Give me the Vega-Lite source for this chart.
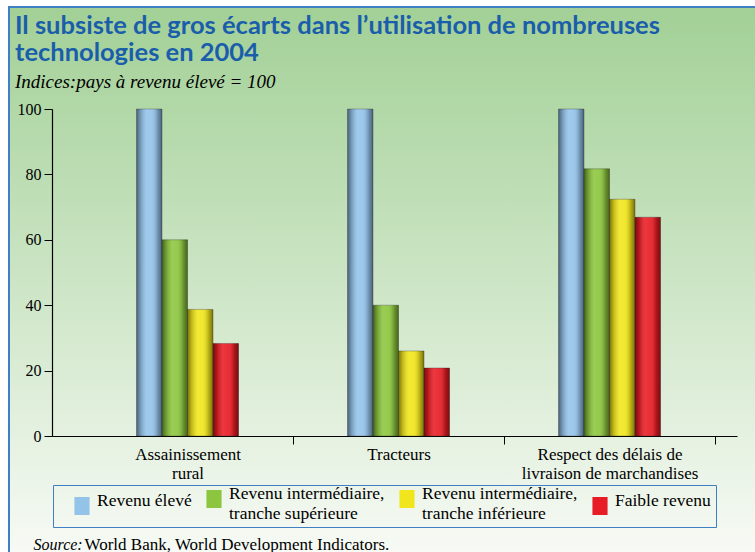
{
  "$schema": "https://vega.github.io/schema/vega-lite/v6.json",
  "width": 747,
  "height": 546,
  "autosize": {"type": "none"},
  "padding": {"left": 9, "top": 7, "right": 0, "bottom": 0},
  "background": "#ffffff",
  "title": {
    "text": ["Il subsiste de gros écarts dans l’utilisation de nombreuses", "technologies en 2004"],
    "subtitle": "Indices:pays à revenu élevé = 100",
    "anchor": "start",
    "frame": "group",
    "orient": "top",
    "offset": -85,
    "dx": 6,
    "font": "Lato",
    "fontSize": 25.5,
    "fontWeight": "bold",
    "color": "#1a5eab",
    "lineHeight": 27,
    "subtitleFont": "Liberation Serif",
    "subtitleFontSize": 19,
    "subtitleFontStyle": "italic",
    "subtitleColor": "#000000",
    "subtitlePadding": 7
  },
  "data": {
    "values": [
      {"technologie": "Assainissement rural", "groupe": "Revenu élevé", "indice": 100},
      {"technologie": "Assainissement rural", "groupe": "Revenu intermédiaire, tranche supérieure", "indice": 60},
      {"technologie": "Assainissement rural", "groupe": "Revenu intermédiaire, tranche inférieure", "indice": 38.7},
      {"technologie": "Assainissement rural", "groupe": "Faible revenu", "indice": 28.3},
      {"technologie": "Tracteurs", "groupe": "Revenu élevé", "indice": 100},
      {"technologie": "Tracteurs", "groupe": "Revenu intermédiaire, tranche supérieure", "indice": 40},
      {"technologie": "Tracteurs", "groupe": "Revenu intermédiaire, tranche inférieure", "indice": 26},
      {"technologie": "Tracteurs", "groupe": "Faible revenu", "indice": 20.8},
      {"technologie": "Respect des délais de livraison de marchandises", "groupe": "Revenu élevé", "indice": 100},
      {"technologie": "Respect des délais de livraison de marchandises", "groupe": "Revenu intermédiaire, tranche supérieure", "indice": 81.7},
      {"technologie": "Respect des délais de livraison de marchandises", "groupe": "Revenu intermédiaire, tranche inférieure", "indice": 72.4},
      {"technologie": "Respect des délais de livraison de marchandises", "groupe": "Faible revenu", "indice": 66.9}
    ]
  },
  "encoding": {
    "x": {
      "field": "technologie",
      "type": "nominal",
      "sort": ["Assainissement rural", "Tracteurs", "Respect des délais de livraison de marchandises"],
      "scale": {"range": [43, 728], "paddingInner": 0.5166, "paddingOuter": 0.3815, "align": 0.525},
      "axis": {
        "orient": "bottom",
        "offset": -117,
        "grid": false,
        "title": "World Bank, World Development Indicators.",
        "titleX": 75,
        "titleY": 113,
        "titleAlign": "left",
        "titleBaseline": "alphabetic",
        "titleFont": "Liberation Serif",
        "titleFontSize": 17,
        "titleFontWeight": "normal",
        "titleColor": "#000000",
        "labelAngle": 0,
        "labelFont": "Liberation Serif",
        "labelFontSize": 17,
        "labelColor": "#000000",
        "labelLineHeight": 19,
        "labelBaseline": "top",
        "labelPadding": 2,
        "labelLimit": 300,
        "labelExpr": "datum.value == 'Assainissement rural' ? ['Assainissement', 'rural'] : datum.value == 'Respect des délais de livraison de marchandises' ? ['Respect des délais de', 'livraison de marchandises'] : datum.value",
        "tickOffset": 105.5,
        "labelOffset": -105.5,
        "tickSize": 8,
        "tickColor": "#000000",
        "domainColor": "#000000",
        "domainWidth": 1.2
      }
    },
    "xOffset": {
      "field": "groupe",
      "type": "nominal",
      "sort": ["Revenu élevé", "Revenu intermédiaire, tranche supérieure", "Revenu intermédiaire, tranche inférieure", "Faible revenu"],
      "scale": {"paddingInner": 0, "paddingOuter": 0}
    },
    "y": {
      "field": "indice",
      "type": "quantitative",
      "stack": null,
      "scale": {"domain": [0, 100], "range": [429, 102], "nice": false},
      "axis": {
        "orient": "left",
        "offset": -43,
        "grid": false,
        "values": [0, 20, 40, 60, 80, 100],
        "tickSize": 8,
        "tickColor": "#000000",
        "domainColor": "#000000",
        "domainWidth": 1.2,
        "labelPadding": 3,
        "labelFont": "Liberation Serif",
        "labelFontSize": 16,
        "labelColor": "#000000",
        "title": "Source:",
        "titleAngle": 0,
        "titleX": -19,
        "titleY": 542,
        "titleAlign": "left",
        "titleBaseline": "alphabetic",
        "titleFont": "Liberation Serif",
        "titleFontSize": 16,
        "titleFontStyle": "italic",
        "titleFontWeight": "normal",
        "titleColor": "#000000"
      }
    }
  },
  "layer": [
    {
      "mark": {"type": "bar", "stroke": "#2b2b2b", "strokeWidth": 0.6, "strokeOpacity": 0.55},
      "encoding": {
        "color": {
          "field": "groupe",
          "type": "nominal",
          "scale": {
            "domain": ["Revenu élevé", "Revenu intermédiaire, tranche supérieure", "Revenu intermédiaire, tranche inférieure", "Faible revenu"],
            "range": ["#94c3ea", "#8cc63e", "#f1e61b", "#e81c24"]
          },
          "legend": {
            "orient": "none",
            "legendX": 44,
            "legendY": 478,
            "direction": "horizontal",
            "columns": 4,
            "title": "\u00a0",
            "titleOrient": "left",
            "titlePadding": 15,
            "padding": 5,
            "strokeColor": "#3f7fc4",
            "symbolType": "M-0.84,-1H0.84V1H-0.84Z",
            "symbolSize": 324,
            "symbolStrokeWidth": 0,
            "symbolOpacity": 1,
            "labelFont": "Liberation Serif",
            "labelFontSize": 17.5,
            "labelColor": "#000000",
            "labelLimit": 300,
            "labelBaseline": "alphabetic",
            "labelOffset": 6,
            "columnPadding": 13,
            "labelExpr": "datum.label == 'Revenu intermédiaire, tranche supérieure' ? ['Revenu intermédiaire,', 'tranche supérieure'] : datum.label == 'Revenu intermédiaire, tranche inférieure' ? ['Revenu intermédiaire,', 'tranche inférieure'] : datum.label == 'Faible revenu' ? 'Faible revenu\u00a0\u00a0\u00a0\u00a0\u00a0' : datum.label",
            "encode": {"legend": {"update": {"strokeWidth": {"value": 1.5}}}}
          }
        }
      }
    },
    {
      "mark": {
        "type": "bar",
        "fill": {
          "gradient": "linear",
          "x1": 0, "y1": 0, "x2": 1, "y2": 0,
          "stops": [
            {"offset": 0, "color": "rgba(0,0,0,0.5)"},
            {"offset": 0.15, "color": "rgba(0,0,0,0.22)"},
            {"offset": 0.4, "color": "rgba(255,255,255,0.12)"},
            {"offset": 0.6, "color": "rgba(255,255,255,0.08)"},
            {"offset": 0.82, "color": "rgba(0,0,0,0.22)"},
            {"offset": 1, "color": "rgba(0,0,0,0.5)"}
          ]
        }
      },
      "encoding": {}
    }
  ],
  "config": {
    "view": {
      "fill": {
        "gradient": "linear",
        "x1": 0, "y1": 0, "x2": 0, "y2": 1,
        "stops": [
          {"offset": 0, "color": "#a2d096"},
          {"offset": 0.5, "color": "#cce5c5"},
          {"offset": 1, "color": "#f7faf5"}
        ]
      },
      "stroke": "#3f7fc4",
      "strokeWidth": 2
    }
  }
}
